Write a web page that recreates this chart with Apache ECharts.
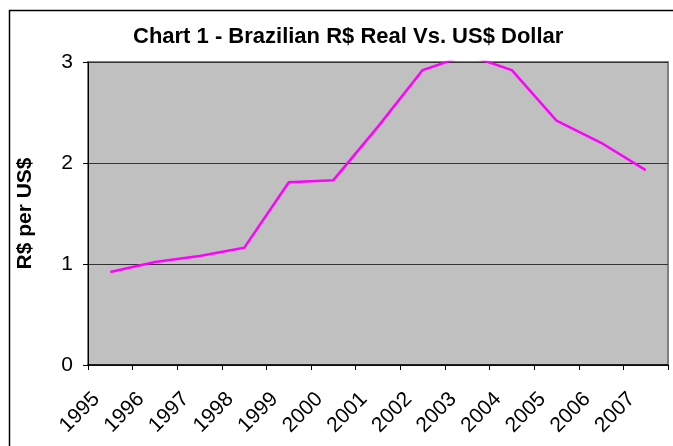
<!DOCTYPE html>
<html>
<head>
<meta charset="utf-8">
<script src="https://cdn.jsdelivr.net/npm/echarts@6/dist/echarts.min.js"></script>
<style>
html,body{margin:0;padding:0;background:#fff;overflow:hidden;}
#chart{width:673px;height:446px;}
</style>
</head>
<body>
<div id="chart"></div>
<script>
var years = ['1995','1996','1997','1998','1999','2000','2001','2002','2003','2004','2005','2006','2007'];
var rates = [0.92, 1.02, 1.08, 1.16, 1.81, 1.83, 2.36, 2.92, 3.07, 2.92, 2.42, 2.20, 1.93];
var titleText = 'Chart 1 - Brazilian R$ Real Vs. US$ Dollar';
var yName = 'R$ per US$';

var FONT = 'Liberation Sans, Arial, sans-serif';
var chart = echarts.init(document.getElementById('chart'), null, {renderer: 'canvas'});
chart.setOption({
  animation: false,
  backgroundColor: '#ffffff',
  graphic: [{
    type: 'polyline',
    shape: {points: [[9.5, 460], [9.5, 10.5], [690, 10.5]]},
    style: {fill: null, stroke: '#000', lineWidth: 1.5},
    z: -10
  }],
  title: {
    text: titleText,
    left: 133,
    top: 26,
    padding: 0,
    textStyle: {fontFamily: FONT, fontSize: 22, fontWeight: 'bold', color: '#000'}
  },
  grid: [{
    left: 88, right: 5, top: 62, bottom: 81,
    show: true, backgroundColor: '#C0C0C0', borderColor: '#808080', borderWidth: 2
  }, {
    left: 74, right: 19, top: 62, bottom: 81, show: false
  }],
  xAxis: [{
    type: 'category', gridIndex: 0, data: years, boundaryGap: true,
    axisLine: {lineStyle: {color: '#000', width: 1.5}},
    axisTick: {show: true, length: 5, lineStyle: {color: '#000'}},
    axisLabel: {show: false},
    splitLine: {show: false}
  }, {
    type: 'category', gridIndex: 1, data: years, boundaryGap: true,
    axisLine: {show: false}, axisTick: {show: false}, splitLine: {show: false},
    axisLabel: {show: true, interval: 0, rotate: 45, margin: 31,
      fontFamily: FONT, fontSize: 21, color: '#000'}
  }],
  yAxis: [{
    type: 'value', gridIndex: 0, min: 0, max: 3, interval: 1,
    name: yName, nameLocation: 'middle', nameRotate: 90, nameGap: 52,
    nameTextStyle: {fontFamily: FONT, fontSize: 21, fontWeight: 'bold', color: '#000'},
    axisLine: {show: true, lineStyle: {color: '#000', width: 1}},
    axisTick: {show: true, length: 5, lineStyle: {color: '#000'}},
    axisLabel: {margin: 15, fontFamily: FONT, fontSize: 21, color: '#000'},
    splitLine: {show: true, lineStyle: {color: '#333', width: 1}}
  }, {
    type: 'value', gridIndex: 1, show: false, min: 0, max: 3
  }],
  series: [{
    type: 'line',
    xAxisIndex: 0, yAxisIndex: 0,
    data: rates,
    showSymbol: false,
    symbol: 'none',
    clip: true,
    lineStyle: {color: '#FF00FF', width: 2.5}
  }]
});
</script>
</body>
</html>
